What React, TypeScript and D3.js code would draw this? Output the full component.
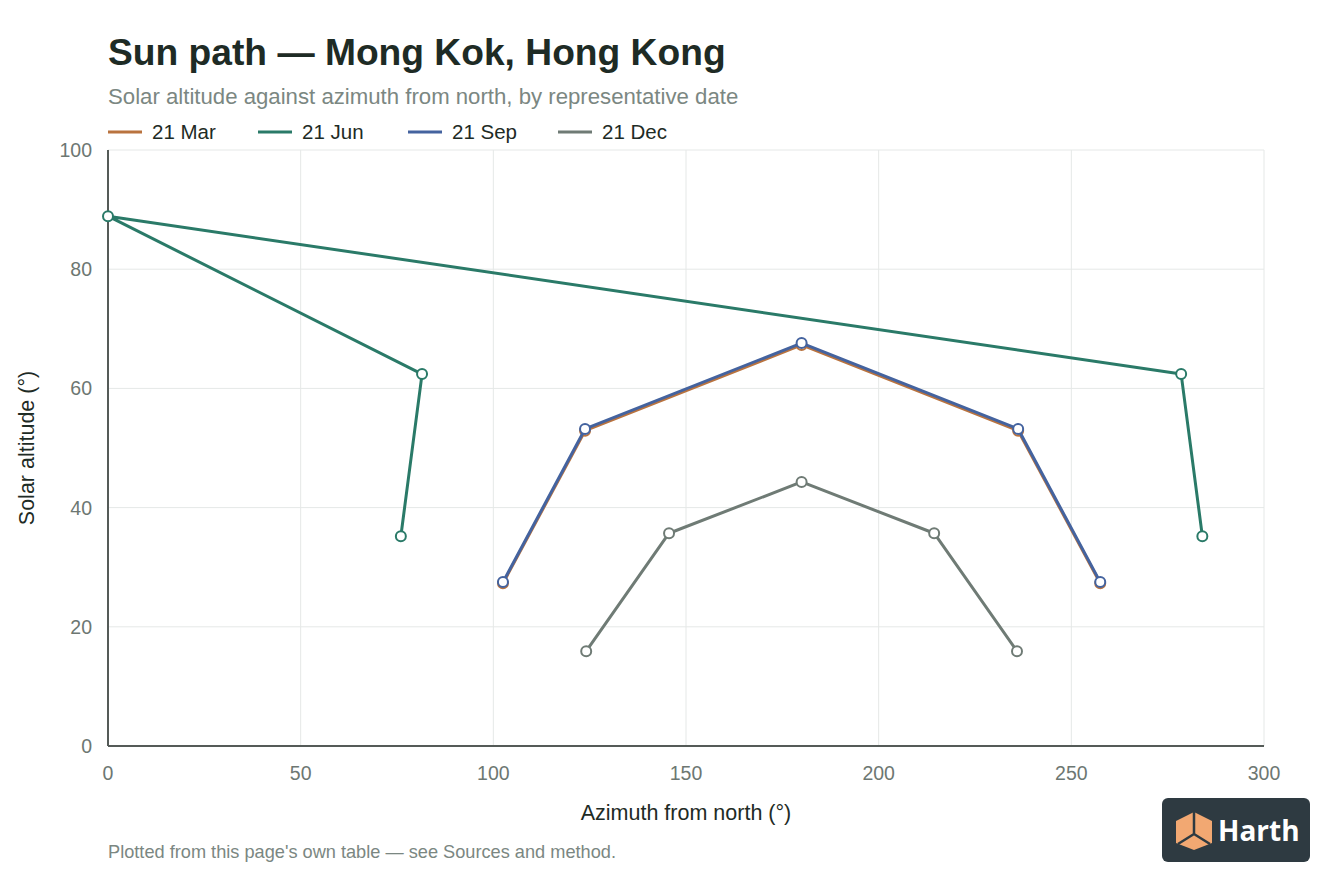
import React from 'react';
import * as d3 from 'd3';

interface Pt {
    az: number;
    alt: number;
}

// Readings off the sun-path table (azimuth from north, altitude in degrees)
const marAz = [102.5, 123.8, 180, 236.2, 257.5];
const marAlt = [27.3, 52.9, 67.3, 52.9, 27.3];
const junAz = [76.0, 81.5, 0, 278.5, 284.0];
const junAlt = [35.2, 62.4, 88.9, 62.4, 35.2];
const sepAz = [102.5, 123.8, 180, 236.2, 257.5];
const sepAlt = [27.5, 53.2, 67.6, 53.2, 27.5];
const decAz = [124.1, 145.6, 180, 214.4, 235.9];
const decAlt = [15.9, 35.7, 44.3, 35.7, 15.9];

const seriesNames = ['21 Mar', '21 Jun', '21 Sep', '21 Dec'];
const seriesColors = ['#b9733f', '#2a7a68', '#44639f', '#6f7b75'];

const xTicks = [0, 50, 100, 150, 200, 250, 300];
const yTicks = [0, 20, 40, 60, 80, 100];

const toPts = (az: number[], alt: number[]): Pt[] => az.map((a, i) => ({ az: a, alt: alt[i] }));
const series: Pt[][] = [
    toPts(marAz, marAlt),
    toPts(junAz, junAlt),
    toPts(sepAz, sepAlt),
    toPts(decAz, decAlt),
];

const W = 1344;
const H = 896;
const margin = { left: 108, right: 80, top: 150, bottom: 150 };
const font = '"Liberation Sans", Arial, Helvetica, sans-serif';

const App: React.FC = () => {
    const x = d3.scaleLinear().domain([0, 300]).range([margin.left, W - margin.right]);
    const y = d3.scaleLinear().domain([0, 100]).range([H - margin.bottom, margin.top]);

    const line = d3.line<Pt>()
        .x(d => x(d.az))
        .y(d => y(d.alt));

    const legendX = [108, 258, 408, 558];

    return (
        <svg width={W} height={H} style={{ position: 'absolute', left: 0, top: 0, background: '#fff' }}
            fontFamily={font}>
            <text x={108} y={65} fontSize={37.2} fontWeight={700} fill="#1e2b25">Sun path — Mong Kok, Hong Kong</text>
            <text x={108} y={104} fontSize={22.2} fill="#7b8782">Solar altitude against azimuth from north, by representative date</text>

            {seriesNames.map((name, i) => (
                <g key={name} transform={`translate(${legendX[i]},132)`}>
                    <line x1={0} x2={34} y1={0} y2={0} stroke={seriesColors[i]} strokeWidth={3} />
                    <text x={44} y={7} fontSize={20.5} fill="#1e2b25">{name}</text>
                </g>
            ))}

            {/* grid */}
            <g>
                {xTicks.map(t => (
                    <line key={'gx' + t} x1={x(t)} x2={x(t)} y1={y(0)} y2={y(100)} stroke="#e5e8e7" strokeWidth={1} />
                ))}
                {yTicks.map(t => (
                    <line key={'gy' + t} x1={x(0)} x2={x(300)} y1={y(t)} y2={y(t)} stroke="#e5e8e7" strokeWidth={1} />
                ))}
            </g>

            {/* axes */}
            <line x1={x(0)} x2={x(0)} y1={y(0)} y2={y(100)} stroke="#555b58" strokeWidth={2} />
            <line x1={x(0)} x2={x(300)} y1={y(0)} y2={y(0)} stroke="#555b58" strokeWidth={2} />

            {xTicks.map(t => (
                <text key={'tx' + t} x={x(t)} y={y(0) + 34} fontSize={19.5} fill="#6d7772" textAnchor="middle">{t}</text>
            ))}
            {yTicks.map(t => (
                <text key={'ty' + t} x={x(0) - 16} y={y(t) + 7} fontSize={19.5} fill="#6d7772" textAnchor="end">{t}</text>
            ))}

            <text x={(x(0) + x(300)) / 2} y={820} fontSize={21.5} fill="#1e2b25" textAnchor="middle">Azimuth from north (°)</text>
            <text transform={`translate(34,${(y(0) + y(100)) / 2}) rotate(-90)`} fontSize={21.5} fill="#1e2b25" textAnchor="middle">Solar altitude (°)</text>

            {/* series */}
            {series.map((pts, i) => (
                <g key={seriesNames[i]}>
                    <path d={line(pts) ?? ''} fill="none" stroke={seriesColors[i]} strokeWidth={3}
                        strokeLinejoin="round" strokeLinecap="round" />
                    {pts.map((p, j) => (
                        <circle key={j} cx={x(p.az)} cy={y(p.alt)} r={5} fill="#fff"
                            stroke={seriesColors[i]} strokeWidth={2} />
                    ))}
                </g>
            ))}

            <text x={108} y={858} fontSize={18.2} fill="#7b8782">Plotted from this page's own table — see Sources and method.</text>

            {/* logo */}
            <g transform="translate(1162,798)">
                <rect width={148} height={64} rx={6} fill="#2e3a41" />
                <g transform="translate(14,14)">
                    <path d="M0,9 L18,0 L36,9 L36,31 L18,38 L0,31 Z" fill="#f2a872" />
                    <path d="M18,0 L18,22 M18,22 L2,32 M18,22 L34,32" stroke="#2e3a41" strokeWidth={2.5} fill="none" />
                </g>
                <text x={56} y={43} fontSize={28} fontWeight={700} fill="#fff" fontFamily='"Open Sans", sans-serif'>Harth</text>
            </g>
        </svg>
    );
};

export default App;
